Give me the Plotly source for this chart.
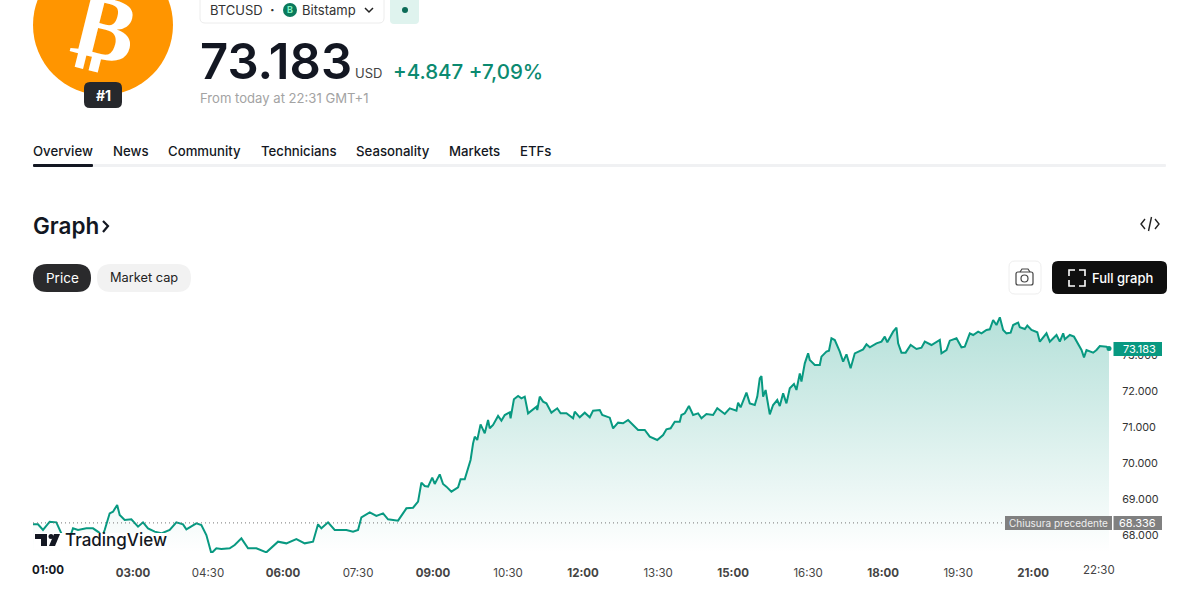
import plotly.graph_objects as go

# minutes since midnight
minutes = [60,66,72,80,88,94,100,106,108,114,124,132,139,143,146,152,156,161,164,170,178,186,192,198,206,214,224,232,240,244,256,262,268,274,280,286,296,302,310,318,328,340,354,364,376,386,396,402,406,414,422,436,444,450,454,464,472,480,486,498,
508,516,522,526,530,534,539,542,548,552,556,562,570,573,578,582,585,588,590,593,597,602,606,608,612,618,622,626,632,633,637,642,646,650,654,664,665,668,672,676,682,689,693,700,708,710,716,722,728,732,740,743,752,756,762,768,774,786,794,800,809,816,820,825,830,836,838,842,847,852,858,
862,868,876,881,890,896,904,906,909,916,920,926,929,932,934,936,939,944,948,953,956,960,964,968,973,976,980,982,986,990,992,998,1004,1006,1012,1015,1018,1022,1028,1032,1036,1041,1046,1056,1060,1064,1072,1078,1082,1085,1092,1096,1098,1102,1107,1113,1120,1126,1130,1138,1148,1150,1156,1160,1168,1174,1178,1184,1188,1194,1198,1204,1208,1212,1216,1220,
1224,1228,1233,1236,1242,1244,1250,1253,1258,1265,1268,1276,1280,1288,1292,1296,1298,1304,1309,1318,1321,1324,1332,1336,1340,1348,1351]
price = [68296,68296,68139,68370,68352,68046,67900,68046,68185,68139,68185,68185,68074,67954,68139,68602,68648,68833,68556,68417,68435,68231,68352,68185,68093,68046,68139,68352,68296,68157,68324,68278,68000,67491,67630,67611,67630,67722,67907,67630,67630,67518,67815,67768,67889,67768,67815,68296,68185,68352,68139,68139,68093,68139,68491,68630,68528,68602,68435,68398,
68741,68759,68926,69454,69361,69343,69593,69417,69685,69417,69343,69204,69324,69546,69546,69852,70083,70546,70731,70639,71074,70824,71194,70963,71056,71306,71176,71333,71407,71241,71769,71861,71796,71843,71380,71565,71472,71843,71704,71658,71398,71519,71380,71380,71241,71426,71269,71398,71269,71454,71472,71333,71259,70963,71120,71102,71194,70917,70917,70731,70639,70778,70935,70963,71148,71148,71333,71380,71584,71333,71380,
71241,71361,71333,71519,71361,71519,71454,71676,71546,71954,71657,71611,71843,72352,72417,71843,72028,71352,71611,71750,71583,71935,71657,72074,72195,72028,72491,72259,72769,73046,72861,72722,72722,72954,73093,73120,73463,73417,73093,72815,73019,72630,73046,73157,73296,73213,73324,73370,73509,73352,73648,73759,73324,73065,73065,73278,73167,73204,73370,73278,73417,73046,73139,73398,73463,73213,73231,73602,73556,73648,73602,73694,73713,73972,73833,74046,
73695,73602,73621,73834,73899,73769,73722,73815,73695,73630,73371,73602,73371,73556,73371,73602,73436,73556,73510,73139,72935,73139,73065,73139,73250,73232,73183]
prev_close = 68336
y_ticks = [68000,69000,70000,71000,72000,73000]
y_labels = ["68.000","69.000","70.000","71.000","72.000","73.000"]
x_ticks = [180,270,360,450,540,630,720,810,900,990,1080,1170,1260]
x_labels = ["<b>03:00</b>","04:30","<b>06:00</b>","07:30","<b>09:00</b>","10:30","<b>12:00</b>","13:30","<b>15:00</b>","16:30","<b>18:00</b>","19:30","<b>21:00</b>"]

W, H = 1200, 592
FONT = "Inter"
LINE = "#089981"
fx = lambda x: x / W
fy = lambda y: 1 - y / H

def rrect(x0, y0, x1, y1, r):
    return (f"M{fx(x0+r)},{fy(y0)} L{fx(x1-r)},{fy(y0)} Q{fx(x1)},{fy(y0)} {fx(x1)},{fy(y0+r)} "
            f"L{fx(x1)},{fy(y1-r)} Q{fx(x1)},{fy(y1)} {fx(x1-r)},{fy(y1)} L{fx(x0+r)},{fy(y1)} "
            f"Q{fx(x0)},{fy(y1)} {fx(x0)},{fy(y1-r)} L{fx(x0)},{fy(y0+r)} Q{fx(x0)},{fy(y0)} {fx(x0+r)},{fy(y0)} Z")

def poly(pts, close=True):
    s = "M" + " L".join(f"{fx(a)},{fy(b)}" for a, b in pts)
    return s + (" Z" if close else "")

shapes, ann = [], []
def box(x0, y0, x1, y1, r, fill, line=None, lw=1):
    shapes.append(dict(type="path", xref="paper", yref="paper", path=rrect(x0, y0, x1, y1, r), fillcolor=fill,
                       line=dict(color=line or "rgba(0,0,0,0)", width=lw if line else 0), layer="above"))
def stroke(pts, color, lw=1.5, close=False):
    shapes.append(dict(type="path", xref="paper", yref="paper", path=poly(pts, close),
                       line=dict(color=color, width=lw), layer="above"))
def solid(pts, color):
    shapes.append(dict(type="path", xref="paper", yref="paper", path=poly(pts), fillcolor=color,
                       line=dict(width=0), layer="above"))
def circle(cx, cy, r, fill):
    shapes.append(dict(type="circle", xref="paper", yref="paper", x0=fx(cx-r), x1=fx(cx+r), y0=fy(cy+r), y1=fy(cy-r),
                       fillcolor=fill, line=dict(width=0), layer="above"))
def text(x, y, t, size=14, color="#131722", weight=400, anchor="left", angle=0, family=FONT):
    ann.append(dict(xref="paper", yref="paper", x=fx(x), y=fy(y), text=t, showarrow=False, xanchor=anchor, yanchor="middle",
                    textangle=angle, borderpad=0, font=dict(family=family, size=size, color=color, weight=weight)))

# Coin
circle(103, 25, 70, "#ff9500")
text(105, 27, "₿", 92, "#ffffff", 700, "center", 14, "DejaVu Sans")
box(84, 82, 122, 108, 6, "#26282c")
text(103, 95, "#1", 14, "#ffffff", 700, "center")

# Header
box(200, -10, 384, 23, 5, "#ffffff", "#ececec")
text(209, 10, "BTCUSD", 13, "#333333")
text(272, 10, "·", 14, "#333333", 700, "center")
circle(290, 10, 7, "#0b7a5c")
text(290, 10, "B", 9, "#7ff0c0", 700, "center")
text(301, 10, "Bitstamp", 13, "#333333")
stroke([(365, 8), (369, 12), (373, 8)], "#222222", 1.5)
box(390, -10, 419, 24, 4, "#dff3ee")
circle(405, 10, 3, "#0b6b57")
text(199, 62, "73.183", 49, "#131722", 600)
text(354, 73, "USD", 13, "#444444")
text(392, 71, "+4.847 +7,09%", 20.5, "#0b8a70", 500)
text(199, 98, "From today at 22:31 GMT+1", 13.1, "#a3a3a3")

# Tabs
for x, t in [(32, "Overview"), (112, "News"), (167, "Community"), (260, "Technicians"), (355, "Seasonality"), (448, "Markets"), (519, "ETFs")]:
    text(x, 151, t, 13.2, "#131722", 500)
box(33, 164, 1166, 167, 1, "#f0f1f3")
box(33, 164, 93, 167, 1, "#131722")

# Section header
text(32, 225, "Graph", 22.5, "#131722", 600)
stroke([(103, 221), (108, 226), (103, 232)], "#131722", 2.2)
stroke([(1145, 219), (1141, 224), (1145, 229)], "#222222", 1.4)
stroke([(1155, 219), (1159, 224), (1155, 229)], "#222222", 1.4)
stroke([(1151.5, 217), (1148.5, 231)], "#222222", 1.4)

# Buttons
box(33, 264, 91, 292, 14, "#2a2a2c")
text(62, 278, "Price", 13.5, "#ffffff", 400, "center")
box(97, 264, 191, 292, 14, "#f2f2f2")
text(144, 278, "Market cap", 12.8, "#222222", 400, "center")
box(1009, 261, 1041, 294, 6, "#ffffff", "#eeeeee")
box(1016, 272, 1033, 285, 2, "rgba(0,0,0,0)", "#444444", 1.2)
stroke([(1020, 272), (1022, 269), (1028, 269), (1030, 272)], "#444444", 1.2)
shapes.append(dict(type="circle", xref="paper", yref="paper", x0=fx(1021), x1=fx(1028), y0=fy(282), y1=fy(275),
                   line=dict(color="#444444", width=1.2), layer="above"))
box(1052, 261, 1167, 294, 6, "#0f0f0f")
for pts in ([(1069, 276), (1069, 270), (1075, 270)], [(1079, 270), (1085, 270), (1085, 276)],
            [(1069, 280), (1069, 286), (1075, 286)], [(1079, 286), (1085, 286), (1085, 280)]):
    stroke(pts, "#ffffff", 1.6)
text(1091, 278, "Full graph", 13, "#ffffff", 500)

# TradingView mark with its white halo
shapes.append(dict(type="rect", xref="paper", yref="paper", x0=fx(34), x1=fx(167), y0=fy(549), y1=fy(533),
                   fillcolor="#ffffff", line=dict(width=0), layer="above"))
solid([(35, 534), (47, 534), (47, 546), (41, 546), (41, 539), (35, 539)], "#131722")
circle(51, 536.5, 2.5, "#131722")
solid([(54, 534), (60, 534), (55, 546), (49, 546)], "#131722")
text(64, 540, "TradingView", 17, "#131722", 500)

# Price tags
box(1005, 516, 1112, 530, 0, "#808080")
text(1008, 523, "Chiusura precedente", 10, "#eeeeee")
box(1113.5, 516, 1162, 530, 0, "#808080")
text(1157, 523, f"{prev_close:,}".replace(",", "."), 11, "#ffffff", 400, "right")
box(1113.5, 342, 1162, 356, 0, LINE)
text(1157, 349, f"{price[-1]:,}".replace(",", "."), 11, "#ffffff", 400, "right")

# Clamped end labels of the time axis
text(48, 570, "<b>01:00</b>", 11.5, "#131722", 400, "center")
text(1099, 570, "22:30", 11.5, "#444444", 400, "center")

fig = go.Figure()
fig.add_trace(go.Scatter(x=minutes, y=price, mode="lines", line=dict(color=LINE, width=2), fill="tozeroy",
                         fillgradient=dict(type="vertical", start=74100, stop=67500,
                                           colorscale=[[0, "rgba(8,153,129,0.30)"], [1, "rgba(8,153,129,0)"]]),
                         hoverinfo="skip"))
fig.add_trace(go.Scatter(x=[minutes[0], minutes[-1]], y=[prev_close, prev_close], mode="lines",
                         line=dict(color="#777777", width=1, dash="1px 3px"), hoverinfo="skip"))
fig.add_trace(go.Scatter(x=[minutes[-1]], y=[price[-1]], mode="markers", marker=dict(color=LINE, size=5), hoverinfo="skip", cliponaxis=False))

fig.update_layout(
    width=W, height=H, margin=dict(l=0, r=0, t=0, b=0), paper_bgcolor="#ffffff", plot_bgcolor="#ffffff",
    showlegend=False, shapes=shapes, annotations=ann, font=dict(family=FONT, color="#333333"),
    xaxis=dict(domain=[33/W, 1109/W], range=[60, 1351], tickmode="array", tickvals=x_ticks, ticktext=x_labels,
               showgrid=False, zeroline=False, showline=False, ticks="outside", ticklen=9, tickcolor="rgba(0,0,0,0)",
               tickfont=dict(family=FONT, size=11.5, color="#444444"), tickangle=0),
    yaxis=dict(domain=[1-553/H, 1-305/H], range=[67500, 74389], side="right", tickmode="array", tickvals=y_ticks,
               ticktext=y_labels, showgrid=False, zeroline=False, showline=False, ticks="outside", ticklen=10,
               tickcolor="rgba(0,0,0,0)", tickfont=dict(family=FONT, size=10.8, color="#333333")),
)
fig.write_html("out.html", config=dict(displayModeBar=False),
               post_script="document.body.style.margin='0';document.body.style.overflow='hidden';")
